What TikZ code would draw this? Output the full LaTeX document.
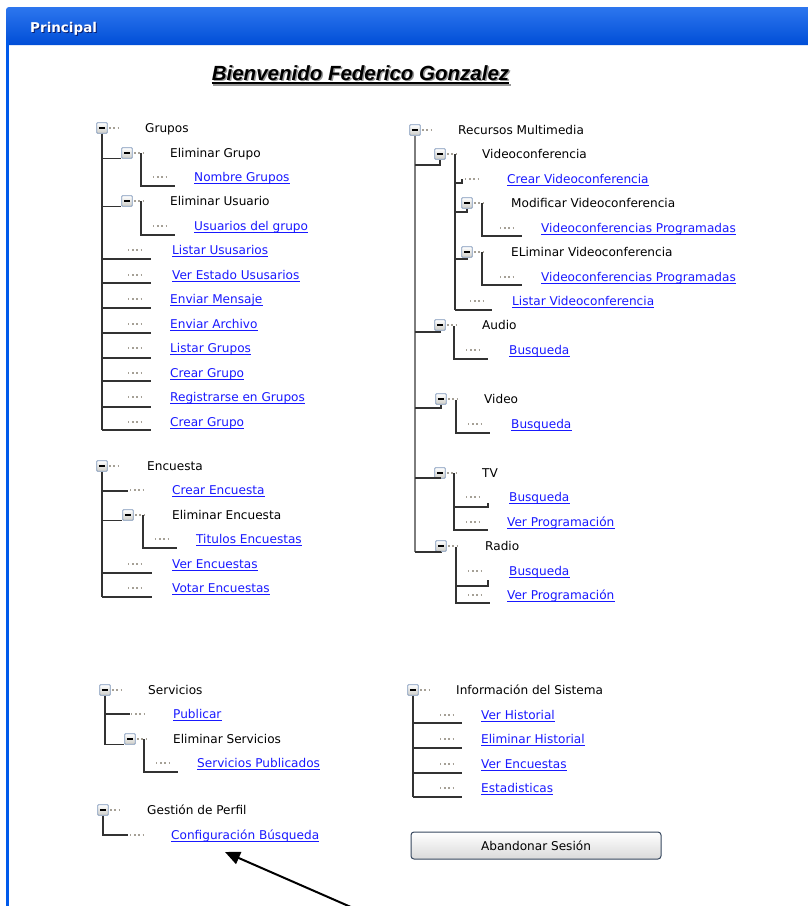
\documentclass[tikz,border=0pt]{standalone}
\usepackage{fontspec}
\setmainfont{DejaVu Sans}
\newfontfamily\titlefont{Liberation Sans}
\usetikzlibrary{arrows.meta}

\definecolor{bartop}{RGB}{45,118,238}
\definecolor{barmid}{RGB}{0,102,255}
\definecolor{barbot}{RGB}{0,78,215}
\definecolor{barborder}{RGB}{0,90,235}
\definecolor{linkblue}{RGB}{25,25,255}
\definecolor{dotgray}{RGB}{165,160,150}
\definecolor{treeline}{RGB}{50,50,50}
\definecolor{trunkgray}{RGB}{125,125,125}
\definecolor{boxedge}{RGB}{125,150,185}
\definecolor{boxfill}{RGB}{205,205,200}
\definecolor{btnedge}{RGB}{55,72,95}
\definecolor{btnfill}{RGB}{218,218,218}

% tree helpers: a collapsible group box with its caption, and a linked leaf
\newcommand\grp[5]{%
  \node[tbox] (#1) at (#2,#3) {};
  \node[tlabel] (#1-t) at (#4,#3) {#5};}
\newcommand\leaf[5]{%
  \draw[dotline] (#2,#3) -- ++(14,0);
  \node[tlink] (#1) at (#4,#3) {#5};}

\begin{document}
\begin{tikzpicture}[x=1pt,y=-1pt,
  font=\fontsize{12.1}{14}\selectfont,
  tline/.style={draw=treeline, line width=1.1pt},
  mainline/.style={draw=trunkgray, line width=2.2pt},
  dotline/.style={draw=dotgray, line width=1.4pt, dash pattern=on 1.4pt off 2.8pt},
  tbox/.style={draw=boxedge, line width=0.9pt, rounded corners=0.8pt,
    top color=white, bottom color=boxfill, minimum size=10.5pt, inner sep=0pt,
    path picture={\draw[black, line width=1.9pt]
      ([xshift=-3.2pt]path picture bounding box.center) --
      ([xshift=3.2pt]path picture bounding box.center);},
    append after command={([xshift=1.5pt]\tikzlastnode.east)
      edge[dotline] ([xshift=11pt]\tikzlastnode.east)}},
  tlabel/.style={anchor=base west, inner sep=0pt, yshift=-4.4pt, text=black},
  tlink/.style={tlabel, text=linkblue,
    append after command={([yshift=-1.7pt]\tikzlastnode.base west)
      edge[draw=linkblue, line width=0.9pt] ([yshift=-1.7pt]\tikzlastnode.base east)}},
  btn/.style={draw=btnedge, line width=1pt, rounded corners=3pt,
    top color=white, bottom color=btnfill, minimum width=250pt,
    minimum height=27pt, inner sep=0pt}
]
\useasboundingbox (0,0) rectangle (808,906);
\fill[white] (0,0) rectangle (808,906);

% ---------- window frame ----------
\shade[top color=bartop, middle color=barmid, bottom color=barbot, rounded corners=3pt]
  (6,7) rectangle (820,45);
\fill[barborder] (6,40) rectangle (9,906);
\node[anchor=base west, inner sep=0pt, text={rgb,255:red,10;green,30;blue,110},
  font=\bfseries\fontsize{13.5}{16}\selectfont] (captionshade) at (31,33.9) {Principal};
\node[anchor=base west, inner sep=0pt, text=white,
  font=\bfseries\fontsize{13.5}{16}\selectfont] (caption) at (30,32.9) {Principal};

% ---------- welcome line ----------
\node[anchor=base, inner sep=0pt, text=black!40,
  font=\titlefont\bfseries\itshape\fontsize{20.5}{24}\selectfont,
  append after command={([yshift=-2.8pt]\tikzlastnode.base west)
    edge[draw=black!40, line width=1.8pt] ([yshift=-2.8pt]\tikzlastnode.base east)}]
  (welcomeshade) at (362,81.8) {Bienvenido Federico Gonzalez};
\node[anchor=base, inner sep=0pt, text=black,
  font=\titlefont\bfseries\itshape\fontsize{20.5}{24}\selectfont,
  append after command={([yshift=-2.8pt]\tikzlastnode.base west)
    edge[draw=black, line width=1.8pt] ([yshift=-2.8pt]\tikzlastnode.base east)}]
  (welcome) at (360.5,80.5) {Bienvenido Federico Gonzalez};

% ---------- Grupos ----------
\grp{gG}{102}{128}{145}{Grupos}
\draw[tline] (gG.south) -- (102,430);
\grp{gEG}{127}{153}{170}{Eliminar Grupo}
\draw[tline] (gEG.south west -| gG.south) -- (gEG.south west);
\draw[tline] (141,153) -- (141,186) -- (175,186);
\leaf{lNG}{153}{177}{194}{Nombre Grupos}
\grp{gEU}{127}{201}{170}{Eliminar Usuario}
\draw[tline] (gEU.south west -| gG.south) -- (gEU.south west);
\draw[tline] (141,201) -- (141,235) -- (175,235);
\leaf{lUG}{153}{226}{194}{Usuarios del grupo}
\leaf{lLU}{128}{250}{172}{Listar Ususarios}
\leaf{lVE}{128}{275}{172}{Ver Estado Ususarios}
\leaf{lEM}{128}{299}{170}{Enviar Mensaje}
\leaf{lEA}{128}{324}{170}{Enviar Archivo}
\leaf{lLG}{128}{348}{170}{Listar Grupos}
\leaf{lCG}{128}{373}{170}{Crear Grupo}
\leaf{lRG}{128}{397}{170}{Registrarse en Grupos}
\leaf{lCG2}{128}{422}{170}{Crear Grupo}
\foreach \yy in {259,283,308,333,358,381,407,430}
  \draw[tline] (102,\yy) -- (151,\yy);

% ---------- Encuesta ----------
\grp{gE}{102}{466}{147}{Encuesta}
\draw[tline] (gE.south) -- (102,597);
\draw[tline] (102,491) -- (128,491);
\leaf{lCE}{130}{490}{172}{Crear Encuesta}
\grp{gEE}{128}{515}{172}{Eliminar Encuesta}
\draw[tline] (gEE.south west -| gE.south) -- (gEE.south west);
\draw[tline] (143,515) -- (143,548) -- (177,548);
\leaf{lTE}{155}{539}{196}{Titulos Encuestas}
\leaf{lVEn}{128}{564}{172}{Ver Encuestas}
\leaf{lVoE}{128}{588}{172}{Votar Encuestas}
\draw[tline] (102,573) -- (152,573);
\draw[tline] (102,597) -- (152,597);

% ---------- Servicios ----------
\grp{gS}{105}{690}{148}{Servicios}
\draw[tline] (gS.south) -- (105,745);
\draw[tline] (105,714) -- (130,714);
\leaf{lPu}{131}{714}{173}{Publicar}
\grp{gES}{130}{739}{173}{Eliminar Servicios}
\draw[tline] (gES.south west -| gS.south) -- (gES.south west);
\draw[tline] (144,739) -- (144,772) -- (178,772);
\leaf{lSP}{156}{763}{197}{Servicios Publicados}

% ---------- Gestión de Perfil ----------
\grp{gP}{103}{810}{147}{Gestión de Perfil}
\draw[tline] (gP.south) -- (103,835) -- (128,835);
\leaf{lCB}{130}{835}{171}{Configuración Búsqueda}

% ---------- Recursos Multimedia ----------
\grp{gR}{415}{130}{458}{Recursos Multimedia}
\draw[mainline] (gR.south) -- (415,552);
\grp{gV}{440}{154}{482}{Videoconferencia}
\draw[tline] (415,165) -| (gV.south);
\draw[tline] (455,154) -- (455,310);
\draw[tline] (455,183) -- (462,183) -- (462,179);
\leaf{lCV}{465}{179}{507}{Crear Videoconferencia}
\grp{gMV}{467}{203}{511}{Modificar Videoconferencia}
\draw[tline] (455,212) -| (gMV.south);
\draw[tline] (482,203) -- (482,236) -- (522,236);
\leaf{lVP1}{500}{228}{541}{Videoconferencias Programadas}
\grp{gLV}{467}{252}{511}{ELiminar Videoconferencia}
\draw[tline] (455,259) -| (gLV.south);
\draw[tline] (482,252) -- (482,285) -- (522,285);
\leaf{lVP2}{500}{277}{541}{Videoconferencias Programadas}
\leaf{lLV}{470}{301}{512}{Listar Videoconferencia}
\draw[tline] (455,310) -- (492,310);

\grp{gA}{440}{325}{482}{Audio}
\draw[tline] (415,332) -| (gA.south);
\draw[tline] (454,326) -- (454,359) -- (488,359);
\leaf{lBA}{466}{350}{509}{Busqueda}

\grp{gVi}{441}{399}{484}{Video}
\draw[tline] (415,408) -| (gVi.south);
\draw[tline] (456,400) -- (456,433) -- (490,433);
\leaf{lBV}{468}{424}{511}{Busqueda}

\grp{gT}{440}{473}{482}{TV}
\draw[tline] (415,478) -| (gT.south);
\draw[tline] (454,473) -- (454,530) -- (488,530);
\draw[tline] (454,507) -- (488,507) -- (488,503);
\leaf{lBT}{466}{497}{509}{Busqueda}
\leaf{lPT}{466}{522}{507}{Ver Programación}

\grp{gRa}{441}{546}{485}{Radio}
\draw[tline] (415,552) -| (gRa.south);
\draw[tline] (456,547) -- (456,603) -- (490,603);
\draw[tline] (456,586) -- (488,586) -- (488,580);
\leaf{lBR}{468}{571}{509}{Busqueda}
\leaf{lPR}{468}{595}{507}{Ver Programación}

% ---------- Información del Sistema ----------
\grp{gI}{413}{690}{456}{Información del Sistema}
\draw[tline] (gI.south) -- (413,797);
\leaf{lVH}{440}{715}{481}{Ver Historial}
\leaf{lEH}{440}{739}{481}{Eliminar Historial}
\leaf{lVEs}{440}{764}{481}{Ver Encuestas}
\leaf{lEs}{440}{788}{481}{Estadisticas}
\foreach \yy in {723,748,773,797}
  \draw[tline] (413,\yy) -- (462,\yy);

% ---------- logout button ----------
\node[btn] (logout) at (536,845.5) {Abandonar Sesión};

% ---------- pointer ----------
\coordinate (arrowtail) at (360,911);
\coordinate (arrowtip) at (225,852);
\draw[line width=2pt, -{Triangle[length=15pt,width=13pt]}] (arrowtail) -- (arrowtip);
\end{tikzpicture}
\end{document}
